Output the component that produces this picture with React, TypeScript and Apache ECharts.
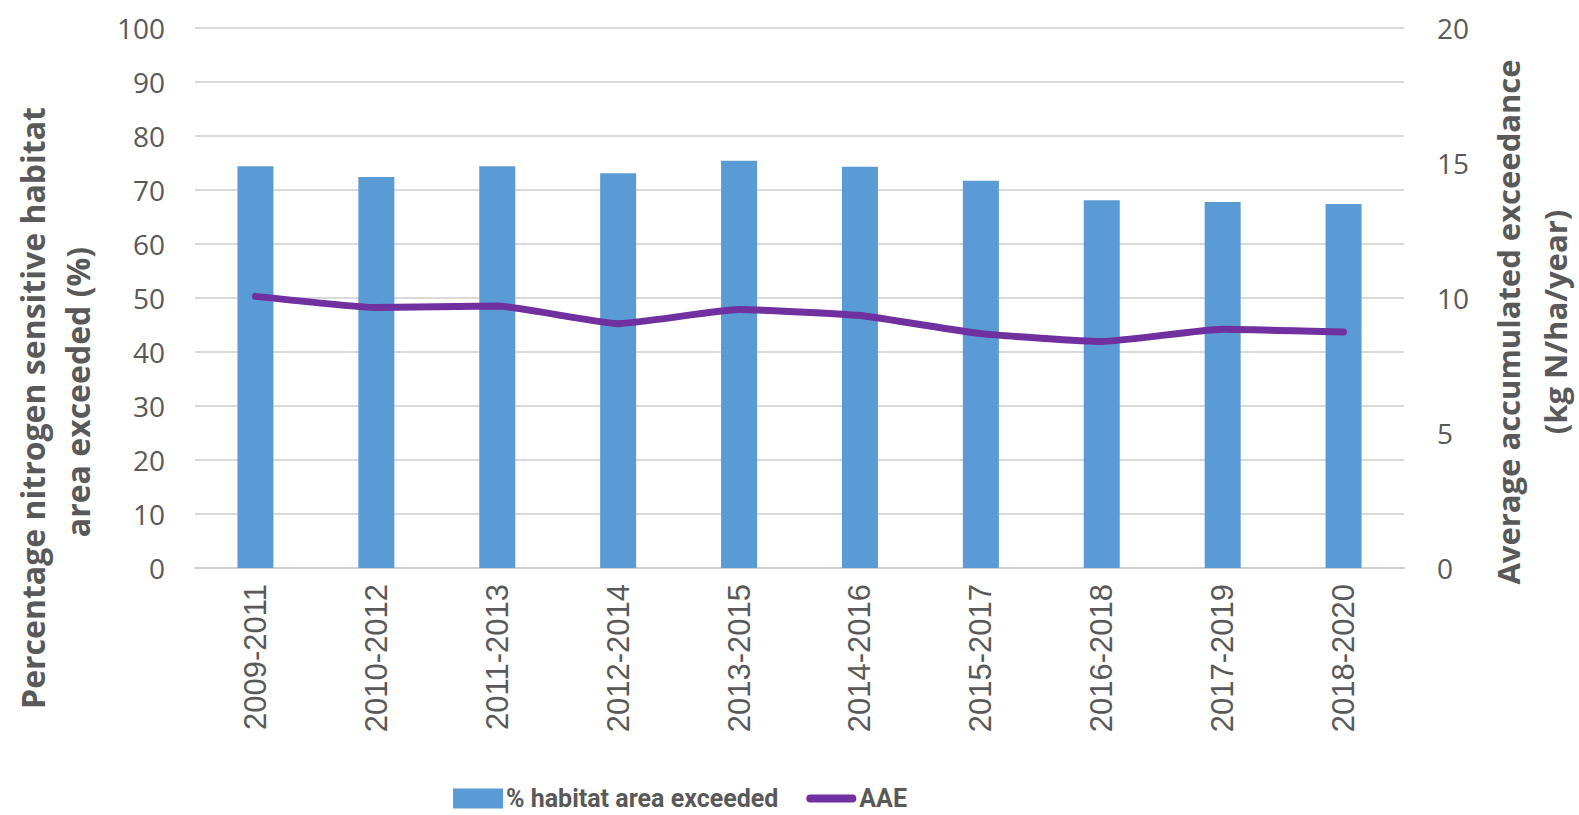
import React, { useEffect, useRef } from "react";
import * as echarts from "echarts";

const categories = [
  "2009-2011", "2010-2012", "2011-2013", "2012-2014", "2013-2015",
  "2014-2016", "2015-2017", "2016-2018", "2017-2019", "2018-2020",
];
const habitatPct = [74.4, 72.4, 74.4, 73.1, 75.4, 74.3, 71.7, 68.1, 67.8, 67.4];
const aae = [10.06, 9.65, 9.7, 9.05, 9.57, 9.35, 8.68, 8.39, 8.84, 8.74];

const leftTitle1 = "Percentage nitrogen sensitive habitat";
const leftTitle2 = "area exceeded (%)";
const rightTitle1 = "Average accumulated exceedance";
const rightTitle2 = "(kg N/ha/year)";

const TITLE_FONT = "'Open Sans', sans-serif";

export default function App() {
  const ref = useRef<HTMLDivElement>(null);
  useEffect(() => {
    if (!ref.current) return;
    const chart = echarts.init(ref.current, null, { renderer: "svg" });
    const titleStyle = (text: string, size: number) => ({
      text,
      fill: "#595959",
      font: `bold ${size}px ${TITLE_FONT}`,
      align: "center",
      verticalAlign: "middle",
    });
    chart.setOption({
      animation: false,
      backgroundColor: "#ffffff",
      grid: { left: 195, right: 175, top: 28, bottom: 247, containLabel: false },
      legend: {
        left: 448,
        top: 781,
        itemGap: 28,
        itemWidth: 50,
        itemHeight: 20,
        textStyle: {
          color: "#595959",
          fontSize: 25,
          fontWeight: "bold",
          fontFamily: "Roboto, sans-serif",
          padding: [0, 0, 0, -2],
        },
        data: [
          { name: "% habitat area exceeded", icon: "rect" },
          {
            name: "AAE",
            icon: "path://M0,0M50,20M4,6L46,6A4,4,0,0,1,46,14L4,14A4,4,0,0,1,4,6Z",
          },
        ],
      },
      xAxis: {
        type: "category",
        data: categories,
        boundaryGap: true,
        axisTick: { show: false },
        axisLine: { lineStyle: { color: "#d0d0d0", width: 2 } },
        axisLabel: {
          rotate: 90,
          fontSize: 31,
          color: "#595959",
          fontFamily: "'Liberation Sans', Arial, sans-serif",
          margin: 16,
        },
      },
      yAxis: [
        {
          type: "value",
          min: 0,
          max: 100,
          interval: 10,
          axisLine: { show: false },
          axisTick: { show: false },
          splitLine: { lineStyle: { color: "#d9d9d9", width: 2 } },
          axisLabel: {
            fontSize: 28,
            color: "#595959",
            fontFamily: "'Open Sans', sans-serif",
            margin: 30,
          },
        },
        {
          type: "value",
          min: 0,
          max: 20,
          interval: 5,
          axisLine: { show: false },
          axisTick: { show: false },
          splitLine: { show: false },
          axisLabel: {
            fontSize: 28,
            color: "#595959",
            fontFamily: "'Open Sans', sans-serif",
            margin: 33,
          },
        },
      ],
      series: [
        {
          name: "% habitat area exceeded",
          type: "bar",
          data: habitatPct,
          barWidth: 36,
          itemStyle: { color: "#5B9BD5" },
          yAxisIndex: 0,
        },
        {
          name: "AAE",
          type: "line",
          data: aae,
          yAxisIndex: 1,
          symbol: "none",
          smooth: 0.15,
          lineStyle: { color: "#7030A0", width: 7, cap: "round" },
          itemStyle: { color: "#7030A0" },
        },
      ],
      graphic: [
        { type: "text", x: 32, y: 408, rotation: Math.PI / 2, style: titleStyle(leftTitle1, 32) },
        { type: "text", x: 77, y: 392, rotation: Math.PI / 2, style: titleStyle(leftTitle2, 32) },
        { type: "text", x: 1508, y: 322, rotation: Math.PI / 2, style: titleStyle(rightTitle1, 31) },
        { type: "text", x: 1555, y: 322, rotation: Math.PI / 2, style: titleStyle(rightTitle2, 31) },
      ],
    });
    return () => chart.dispose();
  }, []);
  return <div ref={ref} style={{ width: 1579, height: 815, position: "absolute", left: 0, top: 0 }} />;
}
